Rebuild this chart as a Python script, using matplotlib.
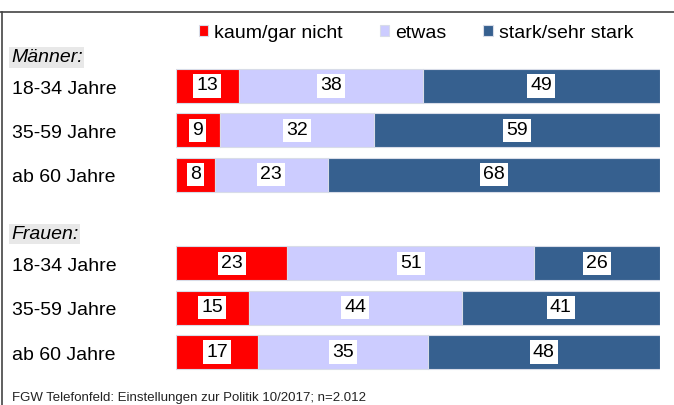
import numpy as np
import matplotlib.pyplot as plt
from matplotlib.lines import Line2D
from matplotlib.transforms import blended_transform_factory, offset_copy

groups = ["Männer:", "Frauen:"]
rows = ["18-34 Jahre", "35-59 Jahre", "ab 60 Jahre",
        "18-34 Jahre", "35-59 Jahre", "ab 60 Jahre"]
series = ["kaum/gar nicht", "etwas", "stark/sehr stark"]
kaum = [13, 9, 8, 23, 15, 17]
etwas = [38, 32, 23, 51, 44, 35]
stark = [49, 59, 68, 26, 41, 48]
footer = "FGW Telefonfeld: Einstellungen zur Politik 10/2017; n=2.012"

colors = ["#ff0000", "#ccccff", "#36608f"]
ypos = np.array([0, 1, 2, 4, 5, 6])
group_y = [-0.64, 3.34]

W, H = 674, 405
fig = plt.figure(figsize=(W / 100, H / 100), dpi=100)
plt.rcParams['font.family'] = ['Liberation Sans', 'DejaVu Sans']

# axes placed so rows land on the reference pixel rows
unit = (352 - 86) / 6
top_px = 86 - 0.8 * unit
bot_px = 352 + 0.6 * unit
ax = fig.add_axes([176 / W, 1 - bot_px / H, (660 - 176) / W, (bot_px - top_px) / H])
ax.set_ylim(6.6, -0.8)
ax.axis("off")

# rounded shares may not add to 100, bars are drawn as full rows
data = np.array([kaum, etwas, stark], dtype=float)
totals = data.sum(axis=0)
ax.set_xlim(0, 1)

left = np.zeros(len(rows))
for name, vals, c in zip(series, data, colors):
    share = vals / totals
    ax.barh(ypos, share, left=left, height=0.77, color=c, edgecolor="#d8dce8",
            linewidth=0.8, label=name)
    for y, l, s, v in zip(ypos, left, share, vals):
        ax.text(l + s / 2, y, str(int(v)), ha="center", va="center", fontsize=14,
                bbox=dict(facecolor="white", edgecolor="none", pad=2.2))
    left += share

tr = blended_transform_factory(fig.transFigure, ax.transData)
tr_low = offset_copy(tr, fig=fig, y=-3, units="dots")
for y, lab in zip(ypos, rows):
    fig.text(12 / W, y, lab, transform=tr_low, ha="left", va="center", fontsize=14)
for y, g in zip(group_y, groups):
    fig.text(11 / W, y, g, transform=tr, ha="left", va="center", fontsize=14,
             style="italic", bbox=dict(facecolor="#e8e8e8", edgecolor="none", pad=1.2))

fig.legend(loc="center", bbox_to_anchor=(416 / W, 1 - 33 / H), ncol=3, frameon=False,
           fontsize=14, handlelength=0.5, handleheight=0.5, handletextpad=0.3,
           columnspacing=1.9)

fig.add_artist(Line2D([0, 1], [1 - 12 / H] * 2, transform=fig.transFigure,
                      color="#444444", linewidth=1.2))
fig.add_artist(Line2D([1.5 / W] * 2, [0, 1 - 12 / H], transform=fig.transFigure,
                      color="#444444", linewidth=1.2))

fig.text(12 / W, 1 - 404.5 / H, footer, ha="left", va="bottom", fontsize=9.5,
         color="#222222")

fig.savefig("out.png", dpi=100)
